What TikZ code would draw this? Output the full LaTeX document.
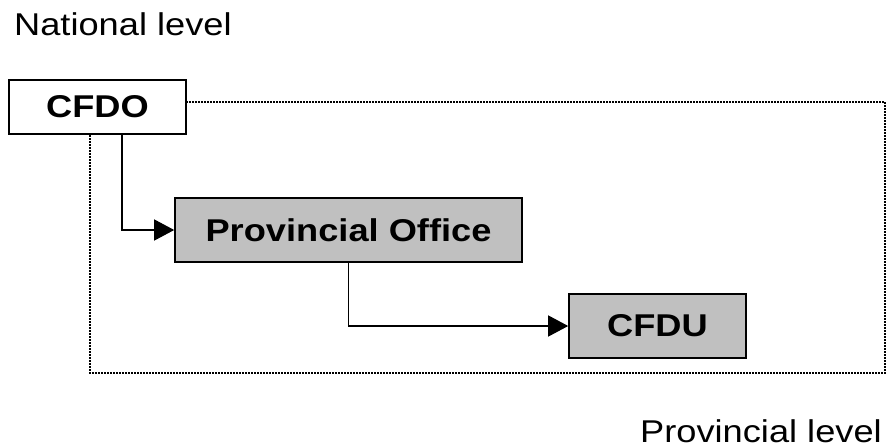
\documentclass[tikz,border=0pt]{standalone}
\usepackage{fontspec}
\setmainfont[FakeStretch=1.15]{Liberation Sans}
\usepackage{xcolor}
\usetikzlibrary{arrows.meta,positioning}
\definecolor{boxgray}{HTML}{C0C0C0}

\begin{document}
\begin{tikzpicture}[x=1pt, y=-1pt,
  unit/.style={rectangle, draw=black, line width=1.6pt, fill=#1,
    minimum width=177pt, minimum height=64pt, inner sep=0pt,
    font=\fontsize{31.5}{36}\selectfont\bfseries},
  level/.style={inner sep=0pt, anchor=base west,
    font=\fontsize{31.5}{36}\selectfont},
  flow/.style={line width=1.3pt, -{Triangle[length=20pt,width=21pt]}},
  frame/.style={line width=1.3pt, dash pattern=on 2pt off 1pt}
]
\useasboundingbox (0,0) rectangle (888,447);
\coordinate (frame nw) at (90,102);
\coordinate (frame se) at (885,373);
\draw[frame] (frame nw) rectangle (frame se);
\node[level] (national) at (14,35) {National level};
\node[level] (provincial) at (640,442) {Provincial level};
\node[unit=white, minimum height=54pt] (cfdo) at (97.5,107) {CFDO};
\node[unit=boxgray, minimum width=347pt] (office) at (348.5,230) {Provincial Office};
\node[unit=boxgray] (cfdu) at (657.5,326) {CFDU};
\draw[flow] ([xshift=24.5pt]cfdo.south) |- (office.west);
\draw[flow] (office.south) |- (cfdu.west);
\end{tikzpicture}
\end{document}
